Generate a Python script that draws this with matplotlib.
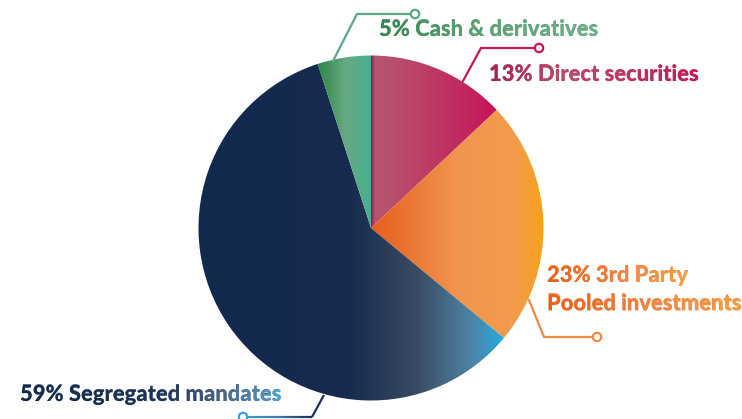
import numpy as np
import matplotlib
matplotlib.use("Agg")
import matplotlib.pyplot as plt
from matplotlib.colors import LinearSegmentedColormap
from matplotlib.textpath import TextPath
from matplotlib.font_manager import FontProperties
from matplotlib.patches import PathPatch, Circle

# ---- data ----
categories = ["Direct securities", "3rd Party Pooled investments", "Segregated mandates", "Cash & derivatives"]
values = [13, 23, 59, 5]
labels = ["13% Direct securities", "23% 3rd Party\nPooled investments", "59% Segregated mandates", "5% Cash & derivatives"]

slice_grads = [
    [(0.0, "#9c1846"), (0.03, "#b55672"), (0.35, "#bb4468"), (1.0, "#c6145a")],
    [(0.0, "#e85e1c"), (0.5, "#f09550"), (0.85, "#f39c4a"), (1.0, "#f6a216")],
    [(0.0, "#11294d"), (0.5, "#172b4d"), (0.72, "#3a4b64"), (0.9, "#4e85a6"), (1.0, "#25abe0")],
    [(0.0, "#2c8746"), (0.5, "#68a882"), (1.0, "#45b190")],
]
text_grads = [
    [(0.0, "#a3224c"), (0.35, "#b84d6b"), (1.0, "#c7175b")],
    [(0.0, "#e85f1a"), (0.6, "#f08a48"), (1.0, "#f4a040")],
    [(0.0, "#132a4e"), (0.55, "#1e3556"), (0.8, "#4f6b86"), (1.0, "#4aa6d6")],
    [(0.0, "#33874c"), (0.4, "#5c9f72"), (1.0, "#70b28d")],
]
line_colors = ["#c4175a", "#ef8a45", "#1b3256", "#5aa883"]

W, H = 742, 419
fig = plt.figure(figsize=(W / 100, H / 100), dpi=100)
ax = fig.add_axes([0, 0, 1, 1])
ax.set_xlim(0, W)
ax.set_ylim(0, H)
ax.set_aspect("equal")
ax.axis("off")

cx, cy, R = 371, H - 228, 172.5

wedges, _ = ax.pie(values, startangle=90, counterclock=False, radius=R, center=(cx, cy),
                   frame=True, wedgeprops=dict(linewidth=0))
ax.set_xlim(0, W)
ax.set_ylim(0, H)
ax.axis("off")


def hgrad(stops, extent, zorder=2, clip=None):
    cmap = LinearSegmentedColormap.from_list("g", stops)
    grad = np.linspace(0, 1, 256).reshape(1, -1)
    im = ax.imshow(grad, cmap=cmap, extent=extent, aspect="auto", zorder=zorder,
                   interpolation="bilinear")
    if clip is not None:
        im.set_clip_path(clip)
    return im


for w, stops in zip(wedges, slice_grads):
    w.set_facecolor("none")
    verts = w.get_path().transformed(w.get_patch_transform()).vertices
    x0, x1 = verts[:, 0].min(), verts[:, 0].max()
    y0, y1 = verts[:, 1].min(), verts[:, 1].max()
    hgrad(stops, (x0, x1, y0, y1), zorder=2, clip=w)

# ---- leader lines (pixel coordinates, top-left origin) ----
leaders = [
    [(463, 81), (481, 48), (539, 48)],
    [(529, 300), (544, 337), (597, 337)],
    [(324, 395), (312, 417), (243, 417)],
    [(333, 61), (357, 14), (415, 14)],
]
for pts, col in zip(leaders, line_colors):
    xs = [p[0] for p in pts]
    ys = [H - p[1] for p in pts]
    if col == "#1b3256":
        ax.plot(xs[:2], ys[:2], color="#1b3256", lw=1.6, zorder=3, solid_capstyle="butt")
        n = 40
        xx = np.linspace(xs[1], xs[2], n + 1)
        cm = LinearSegmentedColormap.from_list("l", ["#1b3256", "#3f7fae", "#35a3d8"])
        for i in range(n):
            ax.plot(xx[i:i + 2], [ys[1], ys[1]], color=cm(i / n), lw=1.6, zorder=3,
                    solid_capstyle="butt")
        ccol = "#35a3d8"
    else:
        ax.plot(xs, ys, color=col, lw=1.6, zorder=3, solid_joinstyle="miter")
        ccol = col
    ax.add_patch(Circle((xs[-1], ys[-1]), 4.2, facecolor="white", edgecolor=ccol, lw=1.6, zorder=4))

# ---- labels ----
fp = FontProperties(family="Lato", weight="black")
size_px = 22
text_pos = [
    (489, 81),
    (547, 282),
    (20, 401),
    (379, 36),
]
for lab, (tx, ty), stops in zip(labels, text_pos, text_grads):
    lines = lab.split("\n")
    for li, line in enumerate(lines):
        bx, by = tx, H - (ty + li * 28.5)
        t = ax.text(bx, by, line, fontproperties=fp, fontsize=size_px * 72 / 100,
                    color=stops[len(stops) // 2][1], ha="left", va="baseline", zorder=5)
        tp = TextPath((bx, by), line, size=size_px, prop=fp)
        patch = PathPatch(tp, facecolor="none", edgecolor="none")
        ax.add_patch(patch)
        ext = tp.get_extents()
        hgrad(stops, (bx, ext.x1 + 0.01, ext.y0 - 1, ext.y1 + 1), zorder=6, clip=patch)

ax.set_xlim(0, W)
ax.set_ylim(0, H)
fig.savefig("out.png", dpi=100, facecolor="white")
